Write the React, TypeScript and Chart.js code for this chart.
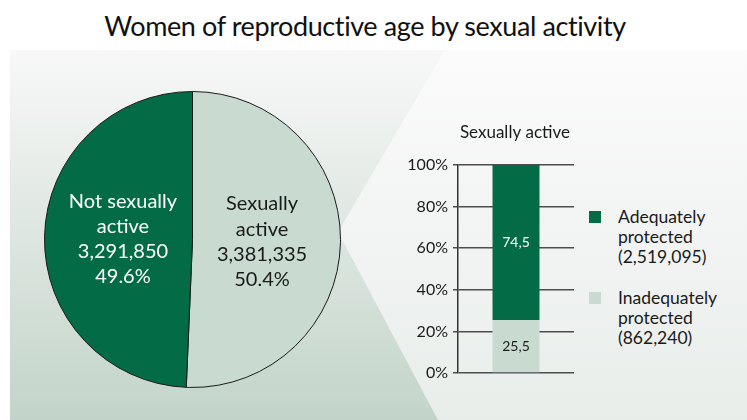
import React, { useEffect, useRef } from 'react';
import { Chart, registerables } from 'chart.js';

Chart.register(...registerables);

// ---------- data ----------
const chartTitle = 'Women of reproductive age by sexual activity';

const pieLabels = ['Sexually active', 'Not sexually active'];
const pieLabelLines = [['Sexually', 'active'], ['Not sexually', 'active']];
const pieCounts = [3381335, 3291850];
const piePercents = ['50.4%', '49.6%'];
const pieColors = ['#c9dbd1', '#036b46'];
const pieTextColors = ['#1a1a1a', '#ffffff'];

const barCategories = ['Sexually active'];
const barSeriesNames = ['Inadequately protected', 'Adequately protected'];
const barSeriesLines = [['Inadequately', 'protected'], ['Adequately', 'protected']];
const barValues = [25.5, 74.5];
const barCounts = [862240, 2519095];
const barColors = ['#c9dbd1', '#036b46'];
const barTextColors = ['#1a1a1a', '#ffffff'];
const yTickValues = [0, 20, 40, 60, 80, 100];

const FONT = 'Lato, "Open Sans", sans-serif';

const pieLabelPlugin = {
  id: 'pieLabelPlugin',
  afterDatasetsDraw(chart: any) {
    const meta = chart.getDatasetMeta(0);
    const ctx = chart.ctx;
    meta.data.forEach((arc: any, i: number) => {
      const p = arc.getProps(['startAngle', 'endAngle', 'outerRadius', 'x', 'y'], true);
      const mid = (p.startAngle + p.endAngle) / 2;
      const r = p.outerRadius * 0.47;
      const cx = p.x + Math.cos(mid) * r;
      const cy = p.y + Math.sin(mid) * r;
      const lines = [...pieLabelLines[i], pieCounts[i].toLocaleString('en-US'), piePercents[i]];
      ctx.save();
      ctx.font = `20px ${FONT}`;
      ctx.fillStyle = pieTextColors[i];
      ctx.textAlign = 'center';
      ctx.textBaseline = 'middle';
      const lh = 25.3;
      lines.forEach((l, k) => ctx.fillText(l, cx, cy + 1 + (k - (lines.length - 1) / 2) * lh));
      ctx.restore();
    });
  },
};

const barLabelPlugin = {
  id: 'barLabelPlugin',
  afterDatasetsDraw(chart: any) {
    const ctx = chart.ctx;
    ctx.save();
    ctx.textAlign = 'center';
    ctx.textBaseline = 'middle';
    chart.data.datasets.forEach((ds: any, i: number) => {
      const meta = chart.getDatasetMeta(i);
      meta.data.forEach((bar: any, j: number) => {
        const p = bar.getProps(['x', 'y', 'base'], true);
        ctx.font = `14px ${FONT}`;
        ctx.fillStyle = barTextColors[i];
        ctx.fillText(String(ds.data[j].toFixed(1)).replace('.', ','), p.x, (p.y + p.base) / 2);
      });
    });
    // category heading above the bar
    const area = chart.chartArea;
    ctx.font = `17px ${FONT}`;
    ctx.fillStyle = '#1a1a1a';
    ctx.fillText(chart.data.labels[0], (area.left + area.right) / 2 - 1, area.top - 32);
    ctx.restore();
  },
};

export default function App() {
  const pieRef = useRef<HTMLCanvasElement>(null);
  const barRef = useRef<HTMLCanvasElement>(null);

  useEffect(() => {
    const pie = new Chart(pieRef.current!, {
      type: 'pie',
      data: {
        labels: pieLabels,
        datasets: [
          {
            data: pieCounts,
            backgroundColor: pieColors,
            borderColor: '#1a1a1a',
            borderWidth: 1,
          },
        ],
      },
      options: {
        animation: false,
        responsive: false,
        maintainAspectRatio: false,
        layout: { padding: 0 },
        plugins: { legend: { display: false }, tooltip: { enabled: false } },
      },
      plugins: [pieLabelPlugin],
    } as any);

    const bar = new Chart(barRef.current!, {
      type: 'bar',
      data: {
        labels: barCategories,
        datasets: barSeriesNames.map((n, i) => ({
          label: n,
          data: [barValues[i]],
          backgroundColor: barColors[i],
          borderWidth: 0,
          barPercentage: 0.405,
          categoryPercentage: 1,
        })),
      },
      options: {
        animation: false,
        responsive: false,
        maintainAspectRatio: false,
        layout: { padding: { top: 65, bottom: 17, left: 0, right: 0 } },
        plugins: { legend: { display: false }, tooltip: { enabled: false } },
        scales: {
          x: { stacked: true, display: false },
          y: {
            stacked: true,
            min: 0,
            max: 100,
            afterBuildTicks: (s: any) => {
              s.ticks = yTickValues.map((v) => ({ value: v }));
            },
            afterFit: (s: any) => {
              s.width = 68;
            },
            ticks: {
              callback: (v: any) => v + '%',
              font: { family: FONT, size: 16 },
              color: '#1a1a1a',
              padding: 5,
            },
            grid: { color: '#4d4d4d', lineWidth: 1.5, tickLength: 5, drawTicks: true },
            border: { display: true, color: '#333333', width: 1.5 },
          },
        },
      },
      plugins: [barLabelPlugin],
    } as any);

    return () => {
      pie.destroy();
      bar.destroy();
    };
  }, []);

  const legendTops = [288, 207];

  return (
    <div style={{ position: 'absolute', left: 0, top: 0, width: 747, height: 420, overflow: 'hidden', background: '#ffffff', fontFamily: FONT }}>
      <svg width={747} height={420} style={{ position: 'absolute', left: 0, top: 0 }}>
        <defs>
          <linearGradient id="gl" x1="0" y1="0" x2="0" y2="1">
            <stop offset="0" stopColor="#f8f8f8" />
            <stop offset="1" stopColor="#c2d4c9" />
          </linearGradient>
          <linearGradient id="gr" x1="0" y1="0" x2="0" y2="1">
            <stop offset="0" stopColor="#fbfbfb" />
            <stop offset="1" stopColor="#e8edea" />
          </linearGradient>
        </defs>
        <rect x={10} y={50} width={737} height={370} fill="url(#gl)" />
        <polygon points="445,50 747,50 747,420 438,420 338,232" fill="url(#gr)" />
      </svg>
      <div style={{ position: 'absolute', left: 0, top: 9, width: 730, textAlign: 'center', fontSize: 27, letterSpacing: '-0.4px', color: '#111111', whiteSpace: 'nowrap' }}>
        {chartTitle}
      </div>
      <canvas ref={pieRef} width={297} height={297} style={{ position: 'absolute', left: 44, top: 91, width: 297, height: 297 }} />
      <canvas ref={barRef} width={184} height={290} style={{ position: 'absolute', left: 390, top: 100, width: 184, height: 290 }} />
      {barSeriesNames.map((n, i) => (
        <div key={n} style={{ position: 'absolute', left: 589, top: legendTops[i] }}>
          <div style={{ position: 'absolute', left: 0, top: 4, width: 12, height: 12, background: barColors[i] }} />
          <div style={{ position: 'absolute', left: 29, top: 0, fontSize: 17.5, lineHeight: '20px', color: '#1a1a1a', whiteSpace: 'nowrap' }}>
            {barSeriesLines[i].map((l) => (
              <div key={l}>{l}</div>
            ))}
            <div>({barCounts[i].toLocaleString('en-US')})</div>
          </div>
        </div>
      ))}
    </div>
  );
}
